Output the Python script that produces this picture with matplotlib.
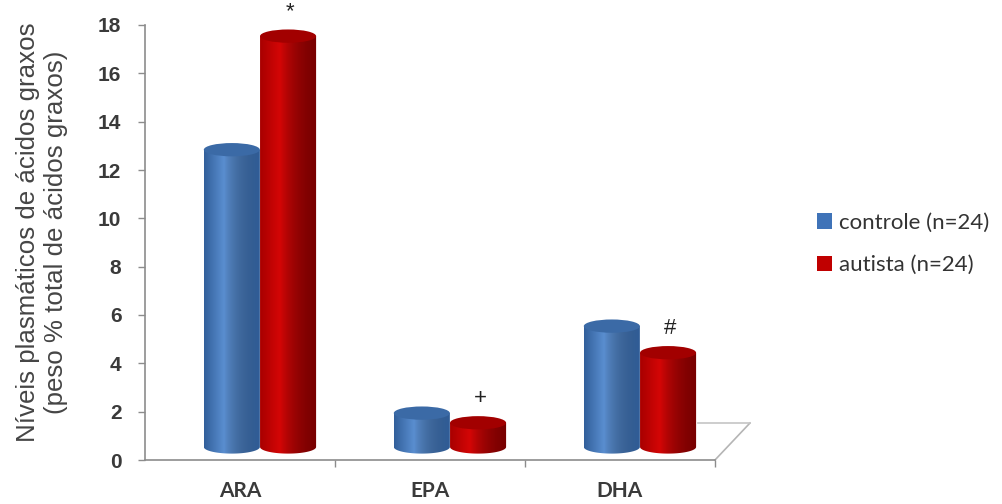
import numpy as np
import matplotlib
matplotlib.use("Agg")
import matplotlib.pyplot as plt
from matplotlib.patches import Ellipse, Polygon, Patch
from matplotlib.colors import to_rgb

# ---- data ----
categories = ["ARA", "EPA", "DHA"]
controle = [12.3, 1.4, 5.0]
autista = [17.0, 1.0, 3.9]
series_labels = ["controle (n=24)", "autista (n=24)"]
marks = ["*", "+", "#"]
yticks = [0, 2, 4, 6, 8, 10, 12, 14, 16, 18]

# ---- style ----
W, H, DPI = 1003, 504, 100
fig = plt.figure(figsize=(W / DPI, H / DPI), dpi=DPI)
ax = fig.add_axes([145 / W, 1 - 460 / H, 570 / W, 435 / H])
XMAX, YMAX = 3.0, 18.0

grey = "#8c8c8c"
txt = "#3a3a3a"
base = 0.54          # floor offset (3D depth)
shift = 0.105        # depth shift to the right
bw = 0.295           # bar width
eh = 0.55            # ellipse height in y units

def grad(c_edge_l, c_mid, c_edge_r, n=200):
    l, m, r = map(np.array, map(to_rgb, (c_edge_l, c_mid, c_edge_r)))
    t = np.linspace(0, 1, n)
    out = np.zeros((1, n, 3))
    for i, ti in enumerate(t):
        if ti < 0.35:
            a = ti / 0.35
            out[0, i] = l * (1 - a) + m * a
        else:
            a = (ti - 0.35) / 0.65
            out[0, i] = m * (1 - a) + r * a ** 1.6
    return out

styles = {
    0: dict(g=grad("#325f9a", "#5a8ed0", "#2f5d98"), top="#3b6aa6"),
    1: dict(g=grad("#a80000", "#d40606", "#780000"), top="#a20000"),
}

def cylinder(xc, val, s):
    x0, x1 = xc - bw / 2, xc + bw / 2
    top = base + val
    th = np.linspace(np.pi, 2 * np.pi, 60)
    bx = xc + bw / 2 * np.cos(th)
    by = base + eh / 2 * np.sin(th)
    pts = [(x0, top)] + list(zip(bx, by)) + [(x1, top)]
    clip = Polygon(pts, closed=True, transform=ax.transData, facecolor="none", edgecolor="none")
    ax.add_patch(clip)
    im = ax.imshow(styles[s]["g"], extent=(x0, x1, base - eh / 2, top), aspect="auto",
                   interpolation="bilinear", zorder=2)
    im.set_clip_path(clip)
    ax.add_patch(Ellipse((xc, top), bw, eh, facecolor=styles[s]["top"],
                         edgecolor="none", zorder=3))
    return top

for i, cat in enumerate(categories):
    c = i + 0.5 + shift
    cylinder(c - 0.148, controle[i], 0)
    t = cylinder(c + 0.148, autista[i], 1)
    ax.text(c + 0.148 + 0.01, t + 1.0, marks[i], ha="center", va="center",
            fontsize=16, color="#222222", family="Liberation Sans")

ax.set_xlim(0, XMAX)
ax.set_ylim(0, YMAX)

# floor perspective lines
fx = 3.184
fy = 1.53
ax.plot([XMAX, fx], [0, fy], color="#b5b5b5", lw=1.2, clip_on=False, zorder=1)
ax.plot([2.91, fx], [fy, fy], color="#c5c5c5", lw=1.2, clip_on=False, zorder=1)

for sp in ["top", "right"]:
    ax.spines[sp].set_visible(False)
for sp in ["left", "bottom"]:
    ax.spines[sp].set_color(grey)
    ax.spines[sp].set_linewidth(1.2)

ax.set_yticks(yticks)
ax.set_yticklabels([str(v) for v in yticks], fontsize=15, fontweight="bold",
                   color=txt, family="Liberation Sans")
ax.tick_params(axis="y", length=5, color=grey, width=1.0, pad=12)
ax.set_xticks([1, 2, 3])
ax.set_xticklabels([])
ax.tick_params(axis="x", which="major", length=5, color=grey, width=1.0)
ax.set_xticks([i + 0.5 for i in range(len(categories))], minor=True)
ax.set_xticklabels(categories, minor=True, fontsize=15, fontweight="bold",
                   color=txt, family="Lato")
ax.tick_params(axis="x", which="minor", length=0, pad=15)

fig.text(42 / W, 1 - 232 / H,
         "Níveis plasmáticos de ácidos graxos\n(peso % total de ácidos graxos)",
         rotation=90, ha="center", va="center", multialignment="center",
         fontsize=18.6, color="#454545", family="Liberation Sans", linespacing=1.25)

handles = [Patch(facecolor="#3f73b8", edgecolor="none"),
           Patch(facecolor="#c00000", edgecolor="none")]
fig.legend(handles, series_labels, loc="upper left",
           bbox_to_anchor=(808 / W, 1 - 204 / H), frameon=False,
           prop={"family": "Lato", "size": 16}, labelcolor="#333333",
           handlelength=0.7, handleheight=0.7, handletextpad=0.3,
           labelspacing=1.0, borderaxespad=0)

fig.savefig("out.png", dpi=DPI)
